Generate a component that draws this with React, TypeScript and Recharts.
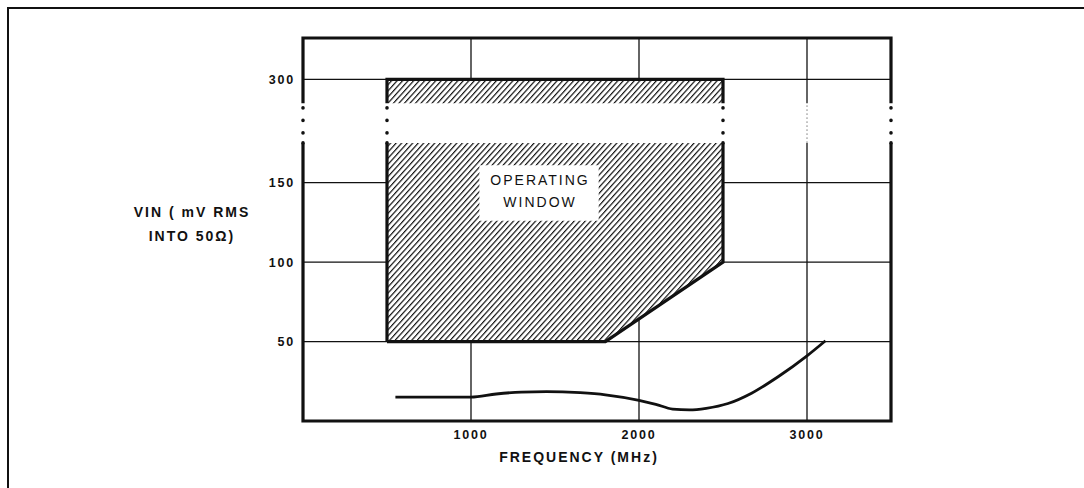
import React from 'react';
import {
  ComposedChart, Area, Line, XAxis, YAxis, CartesianGrid, ReferenceArea, ReferenceLine
} from 'recharts';

const FREQ_TICKS = [1000, 2000, 3000];
const VIN_TICKS = [50, 100, 150, 300];

// operating window outline (MHz, mV rms)
const WINDOW_FREQ = [500, 500, 2500, 2500, 1800, 500];
const WINDOW_VIN = [50, 300, 300, 100, 50, 50];

// hatched fill of the same window
const FILL_FREQ = [500, 1800, 2500];
const FILL_LOW = [50, 50, 100];
const FILL_HIGH = [300, 300, 300];

// typical sensitivity curve
const CURVE_FREQ = [550, 800, 1000, 1150, 1300, 1450, 1650, 1800, 2000, 2100, 2200, 2300, 2400, 2530, 2670, 2830, 3000, 3110];
const CURVE_VIN = [15, 15, 15, 17, 18.2, 18.5, 17.8, 16.5, 13, 10.5, 7.5, 7, 8, 11, 17.5, 28, 41, 50.5];

// the y axis is broken: 175..285 mV is squeezed into a short gap
const GAP_LO = 175;
const GAP_HI = 285;
const GAP_W = 25;
const VIN_TOP = 326;
const BREAK_FREQ = [0, 500, 2500, 3500];
const FREQ_MAX = 3500;

const toAxis = (v: number) => {
  if (v <= GAP_LO) return v;
  if (v >= GAP_HI) return v - (GAP_HI - GAP_LO - GAP_W);
  return GAP_LO + ((v - GAP_LO) * GAP_W) / (GAP_HI - GAP_LO);
};

const outline = WINDOW_FREQ.map((f, i) => ({ x: f, y: toAxis(WINDOW_VIN[i]) }));
const fill = FILL_FREQ.map((f, i) => ({ x: f, range: [toAxis(FILL_LOW[i]), toAxis(FILL_HIGH[i])] }));
const curve = CURVE_FREQ.map((f, i) => ({ x: f, y: toAxis(CURVE_VIN[i]) }));
const yTicks = VIN_TICKS.map(toAxis);
const yLabel = (t: number) => String(VIN_TICKS[yTicks.indexOf(t)] ?? t);

const FONT = '"Liberation Sans", Arial, Helvetica, sans-serif';
const INK = '#111';

const WindowLabel = (props: any) => {
  const vb = props.viewBox || {};
  const cx = vb.x + vb.width / 2 + 1;
  const cy = vb.y + vb.height / 2;
  return (
    <g fontFamily={FONT} fontSize={14} letterSpacing={2} fill={INK}>
      <text x={cx} y={cy - 7.5} textAnchor="middle">OPERATING</text>
      <text x={cx} y={cy + 14.5} textAnchor="middle">WINDOW</text>
    </g>
  );
};

export default function App() {
  return (
    <div style={{ position: 'absolute', left: 0, top: 0, width: 1084, height: 488, background: '#fff' }}>
      <div style={{
        position: 'absolute', left: 7, top: 7, width: 1077, height: 481,
        borderTop: `2px solid ${INK}`, borderLeft: `2px solid ${INK}`
      }} />
      <div style={{ position: 'absolute', left: 0, top: 0 }}>
        <ComposedChart width={1084} height={488} margin={{ top: 38, right: 193, bottom: 37, left: 243 }}>
          <defs>
            <pattern id="hatch" width="4.1" height="10" patternUnits="userSpaceOnUse" patternTransform="rotate(42)">
              <rect width="4.1" height="10" fill="#fff" />
              <line x1="0.6" y1="0" x2="0.6" y2="10" stroke={INK} strokeWidth="1.2" />
            </pattern>
          </defs>
          <CartesianGrid stroke={INK} strokeWidth={1.3} strokeDasharray="" />
          <XAxis
            type="number" dataKey="x" domain={[0, FREQ_MAX]} ticks={FREQ_TICKS} allowDataOverflow
            axisLine={false} tickLine={false} tickSize={0} tickMargin={9} height={30}
            tick={{ fontFamily: FONT, fontSize: 12.5, fontWeight: 700, fill: INK, letterSpacing: 1.8 }}
          />
          <YAxis
            type="number" domain={[0, toAxis(VIN_TOP)]} ticks={yTicks} allowDataOverflow
            tickFormatter={yLabel} axisLine={false} tickLine={false} tickSize={0} tickMargin={8} width={60}
            tick={{ fontFamily: FONT, fontSize: 12.5, fontWeight: 700, fill: INK, letterSpacing: 1.8 }}
          />
          <Area
            data={fill} dataKey="range" type="linear" stroke="none" fill="url(#hatch)" fillOpacity={1}
            isAnimationActive={false} zIndex={100}
          />
          <Line
            data={outline} dataKey="y" type="linear" stroke={INK} strokeWidth={3.2} dot={false}
            strokeLinejoin="miter" isAnimationActive={false} zIndex={200}
          />
          <ReferenceArea
            x1={0} x2={FREQ_MAX} y1={0} y2={toAxis(VIN_TOP)} fill="none" stroke={INK} strokeWidth={3.2}
            ifOverflow="visible" zIndex={300}
          />
          <ReferenceArea
            x1={-40} x2={FREQ_MAX + 40} y1={toAxis(GAP_LO)} y2={toAxis(GAP_HI)} fill="#fff" fillOpacity={1}
            stroke="none" ifOverflow="visible" zIndex={400}
          />
          {BREAK_FREQ.map((f) => (
            <ReferenceLine
              key={f}
              segment={[{ x: f, y: toAxis(GAP_LO) }, { x: f, y: toAxis(GAP_HI) }]}
              stroke={INK} strokeWidth={3.6} strokeLinecap="round" strokeDasharray="0 10 0 12.5 0 12.5 0 200"
              ifOverflow="visible" zIndex={500}
            />
          ))}
          <ReferenceLine
            segment={[{ x: FREQ_TICKS[2], y: toAxis(GAP_LO) }, { x: FREQ_TICKS[2], y: toAxis(GAP_HI) }]}
            stroke="#777" strokeWidth={1} strokeDasharray="1.5 2.5" ifOverflow="visible" zIndex={500}
          />
          <Line
            data={curve} dataKey="y" type="monotone" stroke={INK} strokeWidth={2.8} dot={false}
            isAnimationActive={false} zIndex={600}
          />
          <ReferenceArea
            x1={1050} x2={1760} y1={126} y2={161} fill="#fff" fillOpacity={1} stroke="none"
            label={(p: any) => <WindowLabel {...p} />} zIndex={700}
          />
          <text fontFamily={FONT} fontSize={14} fontWeight={700} letterSpacing={2} fill={INK} textAnchor="middle">
            <tspan x={192} y={217}>VIN ( mV RMS</tspan>
            <tspan x={192} y={241}>INTO 50Ω)</tspan>
          </text>
          <text x={579} y={462} fontFamily={FONT} fontSize={14} fontWeight={700} letterSpacing={2} fill={INK} textAnchor="middle">
            FREQUENCY (MHz)
          </text>
        </ComposedChart>
      </div>
    </div>
  );
}
